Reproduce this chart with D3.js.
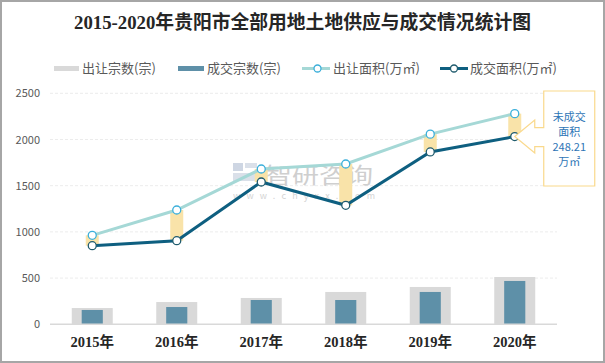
<!DOCTYPE html>
<html>
<head>
<meta charset="utf-8">
<script src="https://cdn.jsdelivr.net/npm/d3@7"></script>
<style>
  body { margin: 0; background: #fff; }
  svg { display: block; }
  text { font-family: "Noto Sans CJK SC", "Microsoft YaHei", sans-serif; }
</style>
</head>
<body>
<div id="chart"></div>
<script>
// data
var years = ["2015年", "2016年", "2017年", "2018年", "2019年", "2020年"];
var supplyCount = [176, 241, 285, 350, 404, 512];   // 出让宗数(宗)
var dealCount = [155, 187, 263, 263, 350, 469];     // 成交宗数(宗)
var supplyArea = [963, 1237, 1681, 1735, 2058, 2280]; // 出让面积(万㎡)
var dealArea = [851, 905, 1540, 1288, 1865, 2031.79]; // 成交面积(万㎡)
var yTicks = [0, 500, 1000, 1500, 2000, 2500];
var legendNames = ["出让宗数(宗)", "成交宗数(宗)", "出让面积(万㎡)", "成交面积(万㎡)"];
var calloutLines = ["未成交", "面积", "248.21", "万㎡"];

var width = 605, height = 363;
var margin = {top: 93.3, right: 48, bottom: 38.7, left: 50};

var svg = d3.select("#chart").append("svg")
    .attr("width", width).attr("height", height);

// frame
svg.append("rect").attr("x", 1).attr("y", 1)
    .attr("width", width - 2).attr("height", height - 2)
    .attr("fill", "#fff").attr("stroke", "#a6a6a6").attr("stroke-width", 2);

// title
svg.append("text").attr("x", width / 2).attr("y", 29)
    .attr("text-anchor", "middle")
    .style("font-family", "'Liberation Serif', 'Noto Sans CJK SC', serif")
    .style("font-weight", "bold").style("font-size", "18.8px")
    .attr("fill", "#262626")
    .text("2015-2020年贵阳市全部用地土地供应与成交情况统计图");

var x = d3.scaleBand().domain(years).range([margin.left, width - margin.right]).padding(0);
var y = d3.scaleLinear().domain([0, 2500]).range([height - margin.bottom, margin.top]);

// gridlines
svg.append("g").selectAll("line").data(yTicks.slice(1)).enter().append("line")
    .attr("x1", margin.left).attr("x2", width - margin.right)
    .attr("y1", function(d) { return y(d); }).attr("y2", function(d) { return y(d); })
    .attr("stroke", "#ececec").attr("stroke-dasharray", "3,2");

// y labels
svg.append("g").selectAll("text").data(yTicks).enter().append("text")
    .attr("x", 40).attr("y", function(d) { return y(d) + 4; })
    .attr("text-anchor", "end").style("font-size", "11px").attr("fill", "#595959")
    .text(function(d) { return d; });

// watermark
var wm = svg.append("g").attr("opacity", 0.6);
wm.append("rect").attr("x", 233).attr("y", 163).attr("width", 10).attr("height", 8).attr("fill", "#aebbd2");
wm.append("rect").attr("x", 245).attr("y", 163).attr("width", 12).attr("height", 5).attr("fill", "#c3ccdc");
wm.append("rect").attr("x", 233).attr("y", 173).attr("width", 24).attr("height", 8).attr("fill", "#c3ccdc");
wm.append("text").attr("x", 265).attr("y", 183).style("font-size", "22px")
    .attr("textLength", 108).attr("lengthAdjust", "spacingAndGlyphs")
    .attr("fill", "#b0b0b0").text("智研咨询");
wm.append("text").attr("x", 233).attr("y", 199).style("font-size", "9px")
    .attr("textLength", 142).attr("lengthAdjust", "spacing")
    .attr("fill", "#b8b8b8").text("www.chyxx.com");

// bars
svg.append("g").selectAll("rect").data(supplyCount).enter().append("rect")
    .attr("x", function(d, i) { return x(years[i]) + x.bandwidth() * (1 - 0.485) / 2; })
    .attr("width", x.bandwidth() * 0.485)
    .attr("y", function(d) { return y(d); })
    .attr("height", function(d) { return y(0) - y(d); })
    .attr("fill", "#d9d9d9");

svg.append("g").selectAll("rect").data(dealCount).enter().append("rect")
    .attr("x", function(d, i) { return x(years[i]) + x.bandwidth() * (1 - 0.25) / 2; })
    .attr("width", x.bandwidth() * 0.25)
    .attr("y", function(d) { return y(d); })
    .attr("height", function(d) { return y(0) - y(d); })
    .attr("fill", "#5e90a8");

// axis line
svg.append("line").attr("x1", margin.left).attr("x2", width - margin.right)
    .attr("y1", y(0)).attr("y2", y(0)).attr("stroke", "#d9d9d9").attr("stroke-width", 1.5);

// x labels
svg.append("g").selectAll("text").data(years).enter().append("text")
    .attr("x", function(d) { return x(d) + x.bandwidth() / 2; })
    .attr("y", 347).attr("text-anchor", "middle")
    .style("font-family", "'Liberation Serif', 'Noto Sans CJK SC', serif")
    .style("font-weight", "bold").style("font-size", "14.5px").attr("fill", "#262626")
    .text(function(d) { return d; });

var cx = function(i) { return x(years[i]) + x.bandwidth() / 2; };

// gap boxes
svg.append("g").selectAll("rect").data(years).enter().append("rect")
    .attr("x", function(d, i) { return cx(i) - 6.5; })
    .attr("width", 13)
    .attr("y", function(d, i) { return y(supplyArea[i]); })
    .attr("height", function(d, i) { return y(dealArea[i]) - y(supplyArea[i]); })
    .attr("fill", "#f9e3a9");

// lines
var line = d3.line().x(function(d, i) { return cx(i); }).y(function(d) { return y(d); });
svg.append("path").datum(supplyArea).attr("d", line)
    .attr("fill", "none").attr("stroke", "#a5d8d6").attr("stroke-width", 3);
svg.append("path").datum(dealArea).attr("d", line)
    .attr("fill", "none").attr("stroke", "#0e5f80").attr("stroke-width", 3);

svg.append("g").selectAll("circle").data(supplyArea).enter().append("circle")
    .attr("cx", function(d, i) { return cx(i); }).attr("cy", function(d) { return y(d); })
    .attr("r", 4).attr("fill", "#fff").attr("stroke", "#3bafda").attr("stroke-width", 1.3);
svg.append("g").selectAll("circle").data(dealArea).enter().append("circle")
    .attr("cx", function(d, i) { return cx(i); }).attr("cy", function(d) { return y(d); })
    .attr("r", 4).attr("fill", "#fff").attr("stroke", "#1e5a6c").attr("stroke-width", 1.3);

// callout
var tx = cx(5), ty = y(dealArea[5]);
var bx0 = tx + 29, bx1 = tx + 80, by0 = 91, by1 = 186;
var callout = [
    [bx0, by0], [bx1, by0], [bx1, by1], [bx0, by1],
    [bx0, ty + 10], [tx + 20, ty + 10], [tx + 20, ty + 16.5], [tx, ty],
    [tx + 20, ty - 16.5], [tx + 20, ty - 9], [bx0, ty - 9]
];
svg.append("path").attr("d", d3.line()(callout) + "Z")
    .attr("fill", "#fff").attr("stroke", "#fad98c").attr("stroke-width", 1.2);
svg.append("g").selectAll("text").data(calloutLines).enter().append("text")
    .attr("x", (bx0 + bx1) / 2).attr("y", function(d, i) { return 121 + i * 15; })
    .attr("text-anchor", "middle").style("font-size", "11px").attr("fill", "#2e75b6")
    .text(function(d) { return d; });

// legend
var lg = svg.append("g").style("font-size", "13px");
var lgX = [54, 178, 302, 440];
lg.append("rect").attr("x", lgX[0]).attr("y", 66).attr("width", 25).attr("height", 5).attr("fill", "#d9d9d9");
lg.append("rect").attr("x", lgX[1]).attr("y", 66).attr("width", 26).attr("height", 5).attr("fill", "#5e90a8");
lg.append("line").attr("x1", lgX[2]).attr("x2", lgX[2] + 28).attr("y1", 68.5).attr("y2", 68.5)
    .attr("stroke", "#a5d8d6").attr("stroke-width", 3);
lg.append("circle").attr("cx", lgX[2] + 15.5).attr("cy", 68.5).attr("r", 3.5)
    .attr("fill", "#fff").attr("stroke", "#3bafda").attr("stroke-width", 1.3);
lg.append("line").attr("x1", lgX[3]).attr("x2", lgX[3] + 28).attr("y1", 68.5).attr("y2", 68.5)
    .attr("stroke", "#0e5f80").attr("stroke-width", 3);
lg.append("circle").attr("cx", lgX[3] + 14).attr("cy", 68.5).attr("r", 3.5)
    .attr("fill", "#fff").attr("stroke", "#1e5a6c").attr("stroke-width", 1.3);
var lgTextX = [82, 207, 333, 470];
lg.selectAll("text").data(legendNames).enter().append("text")
    .attr("x", function(d, i) { return lgTextX[i]; }).attr("y", 73)
    .attr("fill", "#595959").text(function(d) { return d; });
</script>
</body>
</html>
